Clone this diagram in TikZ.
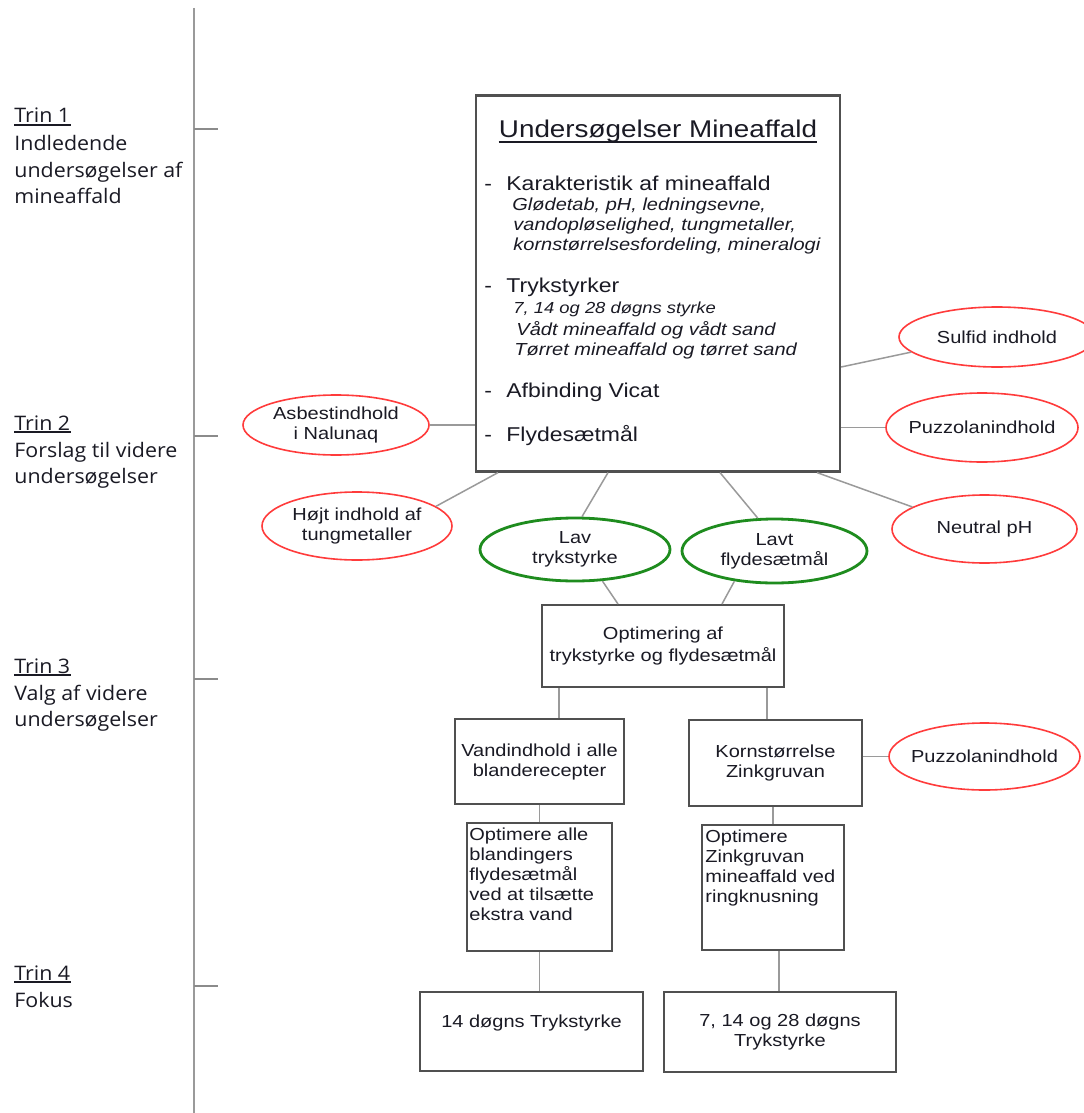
\documentclass[tikz,border=0pt]{standalone}
\usepackage{fontspec}
\setmainfont{Liberation Sans}[FakeStretch=1.15]
\newfontfamily\leftfont{Open Sans}[FakeStretch=1.07]
\usetikzlibrary{shapes.geometric}
\definecolor{boxGray}{HTML}{505050}
\definecolor{connGray}{HTML}{9A9A9A}
\definecolor{ellRed}{HTML}{FF3B3B}
\definecolor{ellGreen}{HTML}{1E8C1E}
\definecolor{txt}{HTML}{1A1A24}
\definecolor{tlGray}{HTML}{9A9A9A}
\begin{document}
\begin{tikzpicture}[x=0.5pt,y=-0.5pt,
  conn/.style={draw=connGray, line width=0.75pt},
  box/.style={rectangle, draw=boxGray, line width=1pt, inner sep=0pt, align=center, text=txt,
    font=\fontsize{8.7}{10}\selectfont},
  btxt/.style={inner sep=0pt, text=txt, font=\fontsize{8.7}{10}\selectfont},
  redell/.style={ellipse, draw=ellRed, line width=0.8pt, inner sep=0pt},
  greenell/.style={ellipse, draw=ellGreen, line width=1.4pt, inner sep=0pt},
  etxt/.style={inner sep=0pt, align=center, text=txt, font=\fontsize{8.7}{10}\selectfont},
  lbl/.style={inner sep=0pt, anchor=base west, text=txt, font=\leftfont\fontsize{10}{13}\selectfont},
  mt/.style={inner sep=0pt, anchor=base west, text=txt, font=\fontsize{10}{12}\selectfont},
  itx/.style={inner sep=0pt, anchor=base west, text=txt, font=\fontsize{8.7}{10}\selectfont\itshape},
  tl/.style={draw=tlGray, line width=1pt},
  tick/.style={draw=tlGray!90!black, line width=0.75pt}
]
\useasboundingbox (0,0) rectangle (1083,1113);
\fill[white] (0,0) rectangle (1083,1113);

% timeline
\coordinate (tlTop) at (194,8);
\coordinate (tlBot) at (194,1113);
\draw[tl] (tlTop) -- (tlBot);
\foreach \yy in {129,436,679,986} \draw[tick] (194,\yy) -- ++(24,0);

% left labels
\node[lbl] (tr1) at (14,123) {Trin 1};
\node[lbl] (tr1a) at (14,150) {Indledende};
\node[lbl] (tr1b) at (14,177) {undersøgelser af};
\node[lbl] (tr1c) at (14,203) {mineaffald};
\node[lbl] (tr2) at (14,430) {Trin 2};
\node[lbl] (tr2a) at (14,457) {Forslag til videre};
\node[lbl] (tr2b) at (14,483) {undersøgelser};
\node[lbl] (tr3) at (14,673) {Trin 3};
\node[lbl] (tr3a) at (14,700) {Valg af videre};
\node[lbl] (tr3b) at (14,726) {undersøgelser};
\node[lbl] (tr4) at (14,980) {Trin 4};
\node[lbl] (tr4a) at (14,1007) {Fokus};
\foreach \n in {tr1,tr2,tr3,tr4}
  \draw[txt, line width=0.65pt] ([yshift=-1pt]\n.base west) -- ([yshift=-1pt]\n.base east);

% main box
\node[box, line width=1.1pt, minimum width=182pt, minimum height=188pt] (main) at (658,283.5) {};
\node[inner sep=0pt, anchor=base, text=txt, font=\fontsize{12.1}{14}\selectfont] (title) at (658,137) {Undersøgelser Mineaffald};
\draw[txt, line width=0.7pt] ([yshift=-2.5pt]title.base west) -- ([yshift=-2.5pt]title.base east);
\node[mt] (dA) at (484,190) {-};
\node[mt] (kA) at (506,190) {Karakteristik af mineaffald};
\node[itx] (kB) at (512,210.5) {Glødetab, pH, ledningsevne,};
\node[itx] (kC) at (513,230.5) {vandopløselighed, tungmetaller,};
\node[itx] (kD) at (513,250.5) {kornstørrelsesfordeling, mineralogi};
\node[mt] (dB) at (484,292) {-};
\node[mt] (tA) at (506,292) {Trykstyrker};
\node[itx, font=\fontsize{8}{10}\selectfont\itshape] (tB) at (513,313) {7, 14 og 28 døgns styrke};
\node[itx] (tC) at (516,335) {Vådt mineaffald og vådt sand};
\node[itx] (tD) at (514,355) {Tørret mineaffald og tørret sand};
\node[mt] (dC) at (484,397) {-};
\node[mt] (aA) at (506,397) {Afbinding Vicat};
\node[mt] (dD) at (484,441.5) {-};
\node[mt] (fA) at (506,441.5) {Flydesætmål};

% ellipses
\node[redell, minimum width=98pt, minimum height=30pt] (sulfid) at (997,337) {};
\node[etxt] (sulfidT) at (sulfid) {Sulfid indhold};
\node[redell, minimum width=96pt, minimum height=34.5pt] (puzz1) at (982,427.5) {};
\node[etxt] (puzz1T) at (puzz1) {Puzzolanindhold};
\node[redell, minimum width=92.5pt, minimum height=34pt] (neutral) at (984.5,529) {};
\node[etxt] (neutralT) at (neutral) {Neutral pH};
\node[redell, minimum width=93pt, minimum height=30pt] (asbest) at (336,425) {};
\node[etxt] (asbestT) at (asbest) {Asbestindhold\\i Nalunaq};
\node[redell, minimum width=95pt, minimum height=34pt] (hojt) at (357,526) {};
\node[etxt] (hojtT) at (hojt) {Højt indhold af\\tungmetaller};
\node[greenell, minimum width=95pt, minimum height=31.5pt] (lav) at (575,549.5) {};
\node[etxt] (lavT) at (lav) {Lav\\trykstyrke};
\node[greenell, minimum width=92.5pt, minimum height=32pt] (lavt) at (774.5,551) {};
\node[etxt] (lavtT) at (lavt) {Lavt\\flydesætmål};
\node[redell, minimum width=95.5pt, minimum height=33.5pt] (puzz2) at (984.5,756.5) {};
\node[etxt] (puzz2T) at (puzz2) {Puzzolanindhold};

% lower boxes
\node[box, minimum width=121pt, minimum height=41pt, font=\fontsize{8.7}{11}\selectfont] (opt) at (663,646) {Optimering af\\trykstyrke og flydesætmål};
\node[box, minimum width=84.5pt, minimum height=42.5pt] (vand) at (539.5,761.5) {Vandindhold i alle\\blanderecepter};
\node[box, minimum width=86.5pt, minimum height=43pt] (korn) at (775.5,763) {Kornstørrelse\\Zinkgruvan};
\node[box, minimum width=72.5pt, minimum height=64pt] (optA) at (539.5,887) {};
\node[btxt, align=left, anchor=north west] (optAT) at (469,827) {Optimere alle\\blandingers\\flydesætmål\\ved at tilsætte\\ekstra vand};
\node[box, minimum width=71pt, minimum height=62.5pt] (optZ) at (773,887.5) {};
\node[btxt, align=left, anchor=north west] (optZT) at (705,829.5) {Optimere\\Zinkgruvan\\mineaffald ved\\ringknusning};
\node[box, minimum width=111.5pt, minimum height=39.5pt] (d14) at (531.5,1031.5) {};
\node[btxt] (d14T) at (531.5,1023) {14 døgns Trykstyrke};
\node[box, minimum width=116pt, minimum height=40pt] (d7) at (780,1032) {7, 14 og 28 døgns\\Trykstyrke};

% connectors
\draw[conn] (asbest.east) -- (asbest.east -| main.west);
\draw[conn] ([xshift=-80pt]main.south) -- (hojt.14);
\draw[conn] ([xshift=-25pt]main.south) -- (lav.78);
\draw[conn] ([xshift=31pt]main.south) -- (lavt.117);
\draw[conn] ([xshift=79.5pt]main.south) -- (neutral.163);
\draw[conn] ([yshift=-41.75pt]main.east) -- (sulfid.190);
\draw[conn] (puzz1.west -| main.east) -- (puzz1.west);
\draw[conn] (lav.-49) -- ([xshift=-22.5pt]opt.north);
\draw[conn] (lavt.217) -- ([xshift=29.5pt]opt.north);
\coordinate (vo) at ([xshift=9.75pt]vand.north);
\draw[conn] (vo) -- (vo |- opt.south);
\coordinate (ko) at ([xshift=-4.25pt]korn.north);
\draw[conn] (ko) -- (ko |- opt.south);
\draw[conn] (puzz2.west -| korn.east) -- (puzz2.west);
\draw[conn] (vand.south) -- (vand.south |- optA.north);
\draw[conn] (optZ.north) -- (optZ.north |- korn.south);
\draw[conn] (optA.south) -- (optA.south |- d14.north);
\coordinate (zo) at ([xshift=3pt]optZ.south);
\draw[conn] (zo) -- (zo |- d7.north);
\end{tikzpicture}
\end{document}
